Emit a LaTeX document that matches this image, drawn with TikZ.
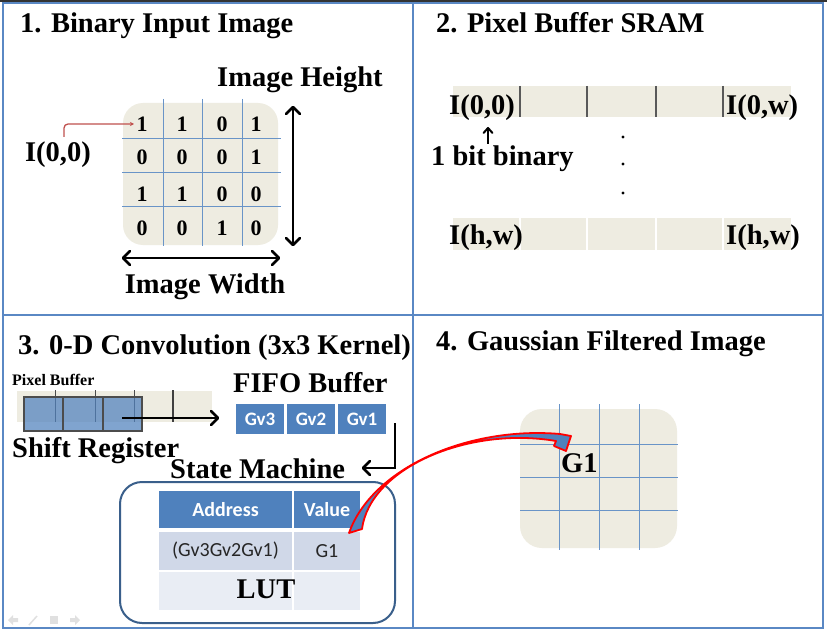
\documentclass[tikz,border=0pt]{standalone}
\usepackage{fontspec}
\setmainfont{Liberation Serif}
\newfontfamily\calib{Carlito}
\usetikzlibrary{arrows.meta}
\definecolor{tanbg}{HTML}{EEECE1}
\definecolor{acc}{HTML}{4F81BD}
\definecolor{framec}{HTML}{5A88C4}
\definecolor{lutc}{HTML}{3A5F8B}
\definecolor{rowa}{HTML}{D0D8E8}
\definecolor{rowb}{HTML}{E9EDF4}
\definecolor{dred}{HTML}{C0504D}
\begin{document}
\begin{tikzpicture}[x=1pt,y=-1pt,
  big/.style={font=\fontsize{28.5}{32}\selectfont\bfseries, inner sep=0pt, anchor=base west},
  bigc/.style={big, anchor=base},
  digit/.style={font=\fontsize{22}{24}\selectfont\bfseries, inner sep=0pt, anchor=base},
  tanbox/.style={fill=tanbg, draw=none, inner sep=0pt},
  gridl/.style={draw=acc!85, line width=0.8pt},
  framel/.style={draw=framec, line width=2.5pt},
  shaft/.style={line width=2.5pt},
  chev/.style={line width=2.6pt, line cap=round, line join=round},
  cell/.style={draw=none, inner sep=0pt, font=\calib\fontsize{20}{22}\selectfont},
  fifo/.style={fill=acc, draw=white, line width=1.2pt, inner sep=0pt, minimum width=50pt, minimum height=32pt, text=white, font=\calib\bfseries\fontsize{19}{21}\selectfont},
  navic/.style={fill=black!12, draw=none}
]
\useasboundingbox (0,0) rectangle (827,631);
\fill[white] (0,0) rectangle (827,631);

% ---------- frame ----------
\draw[framel] (3,3) rectangle (823,628);
\draw[framel] (413,3) -- (413,628);
\draw[framel] (3,315) -- (823,315);
\draw[black!80, line width=1.5pt] (0,0.8) -- (827,0.8);

% ---------- panel 1 ----------
\node[big] (t1) at (20,33) {1. Binary Input Image};
\node[tanbox, rounded corners=20pt, minimum width=155pt, minimum height=142pt] (img) at (200.5,174) {};
\foreach \x in {163,202,242} \draw[gridl] (\x,99) -- (\x,246);
\foreach \y in {138,172,206} \draw[gridl] (122,\y) -- (281,\y);
\foreach \r/\yy in {1/132,2/165,3/201,4/235}{
  \foreach \c/\xx in {1/142,2/182,3/222,4/256}{
    \coordinate (d\r\c) at (\xx,\yy);
  }
}
\foreach \r/\vals in {1/{1,1,0,1},2/{0,0,0,1},3/{1,1,0,0},4/{0,0,1,0}}{
  \foreach \v [count=\c] in \vals {
    \node[digit] (n\r\c) at (d\r\c) {\v};
  }
}
\node[bigc] (i00) at (58,162) {I(0,0)};
\coordinate (i00a) at (64,137);
\coordinate (i00b) at (64,124);
\coordinate (i00c) at (134,124);
\draw[dred, line width=1.3pt, rounded corners=4pt, -{Stealth[length=4pt,width=4pt]}] (i00a) -- (i00b) -- (i00c);
\node[big] (ih) at (217,87) {Image Height};
\node[bigc] (iw) at (205,293) {Image Width};
\coordinate (hT) at (293,107);
\coordinate (hB) at (293,245);
\draw[shaft] (hT) -- (hB);
\draw[chev] (286,114) -- (hT) -- (300,114);
\draw[chev] (286,238) -- (hB) -- (300,238);
\coordinate (wL) at (123,258);
\coordinate (wR) at (279,258);
\draw[shaft] (wL) -- (wR);
\draw[chev] (130,251) -- (wL) -- (130,265);
\draw[chev] (272,251) -- (wR) -- (272,265);

% ---------- panel 2 ----------
\node[big] (t2) at (436,33) {2. Pixel Buffer SRAM};
\fill[tanbg] (453,86) rectangle (791,117);
\foreach \x in {520,587,656,723} \draw[black!65, line width=1.8pt] (\x,86) -- (\x,117);
\fill[tanbg] (453,218) rectangle (791,250);
\foreach \x in {520,587,656,723} \draw[white, line width=2pt] (\x,217) -- (\x,251);
\node[big] (s00) at (449,114.5) {I(0,0)};
\node[big] (s0w) at (726,114.5) {I(0,w)};
\node[big] (shw) at (449,244) {I(h,w)};
\node[big] (shw2) at (726,244) {I(h,w)};
\node[big] (bit) at (431,166) {1 bit binary};
\coordinate (bitA) at (488,144);
\coordinate (bitB) at (488,128);
\draw[line width=2pt] (bitA) -- (bitB);
\draw[line width=2pt, line cap=round, line join=round] (483.5,133) -- (bitB) -- (492.5,133);
\foreach \y in {137,164,193} \fill (623,\y) circle (1.6pt);

% ---------- panel 3 ----------
\node[big] (t3) at (18,354) {3. 0-D Convolution (3x3 Kernel)};
\node[font=\fontsize{16}{18}\selectfont\bfseries, inner sep=0pt, anchor=base west] (pb) at (12,385) {Pixel Buffer};
\fill[tanbg] (17,391) rectangle (212,422);
\foreach \x in {55,95,134} \draw[black!70, line width=0.9pt] (\x,390) -- (\x,422);
\draw[black!75, line width=1.3pt] (173,390) -- (173,422);
\filldraw[fill=acc, fill opacity=0.72, draw=black!70, line width=1.2pt] (24,397) rectangle (142,431);
\foreach \x in {63,103} \draw[black!70, line width=1.3pt] (\x,397) -- (\x,431);
\coordinate (srA) at (122,418);
\coordinate (srB) at (218,418);
\draw[shaft] (srA) -- (srB);
\draw[chev] (211,411) -- (srB) -- (211,425);
\node[big] (sr) at (12,457) {Shift Register};
\node[big] (fb) at (233,392) {FIFO Buffer};
\node[fifo] (g3) at (260,419) {Gv3};
\node[fifo] (g2) at (311,419) {Gv2};
\node[fifo] (g1) at (362,419) {Gv1};
\coordinate (elA) at (395,423);
\coordinate (elB) at (395,468);
\coordinate (elC) at (363,468);
\draw[shaft] (elA) -- (elB) -- (elC);
\draw[chev] (370,461) -- (elC) -- (370,475);
\node[big] (sm) at (170,478) {State Machine};
\node[draw=lutc, line width=2pt, rounded corners=22pt, minimum width=275pt, minimum height=141pt, inner sep=0pt] (lut) at (257.5,552.5) {};
\node[cell, fill=acc, minimum width=133pt, minimum height=37pt, text=white, font=\calib\bfseries\fontsize{20}{22}\selectfont] (ha) at (225.5,509.5) {Address};
\node[cell, fill=acc, minimum width=66pt, minimum height=37pt, text=white, font=\calib\bfseries\fontsize{20}{22}\selectfont] (hv) at (327,509.5) {Value};
\node[cell, fill=rowa, minimum width=133pt, minimum height=38pt, text=black!85] (ra) at (225.5,551) {(Gv3Gv2Gv1)};
\node[cell, fill=rowa, minimum width=66pt, minimum height=38pt, text=black!85] (rv) at (327,551) {G1};
\node[cell, fill=rowb, minimum width=133pt, minimum height=38pt] (la) at (225.5,591) {};
\node[cell, fill=rowb, minimum width=66pt, minimum height=38pt] (lv) at (327,591) {};
\node[bigc] (luttxt) at (266,598) {LUT};
% faint slide navigation icons
\fill[navic] (8,620) -- (13,615) -- (13,618) -- (18,618) -- (18,622) -- (13,622) -- (13,625) -- cycle;
\draw[black!12, line width=1.5pt] (29,625) -- (37,616);
\fill[navic] (50,616) rectangle (58,624);
\fill[navic] (80,620) -- (75,615) -- (75,618) -- (70,618) -- (70,622) -- (75,622) -- (75,625) -- cycle;

% ---------- panel 4 ----------
\node[big] (t4) at (436,350) {4. Gaussian Filtered Image};
\node[tanbox, rounded corners=22pt, minimum width=157pt, minimum height=139pt] (gimg) at (598.5,478.5) {};
\foreach \x in {559,599,639} \draw[gridl] (\x,404) -- (\x,550);
\foreach \y in {444,477,510} \draw[gridl] (520,\y) -- (678,\y);
\node[big] (gg1) at (561,472) {G1};

% ---------- curved arrow LUT -> G1 ----------
\coordinate (caT1) at (349,533);
\coordinate (caT2) at (362,529);
\filldraw[draw=red, fill=acc, line width=1.8pt, line join=round]
  (caT1) .. controls (372,468) and (468,426) .. (560,434)
  -- (571,436) -- (566,451) -- (554,446) -- (556,441)
  .. controls (468,426) and (370,468) .. (caT2) -- cycle;
\end{tikzpicture}
\end{document}
